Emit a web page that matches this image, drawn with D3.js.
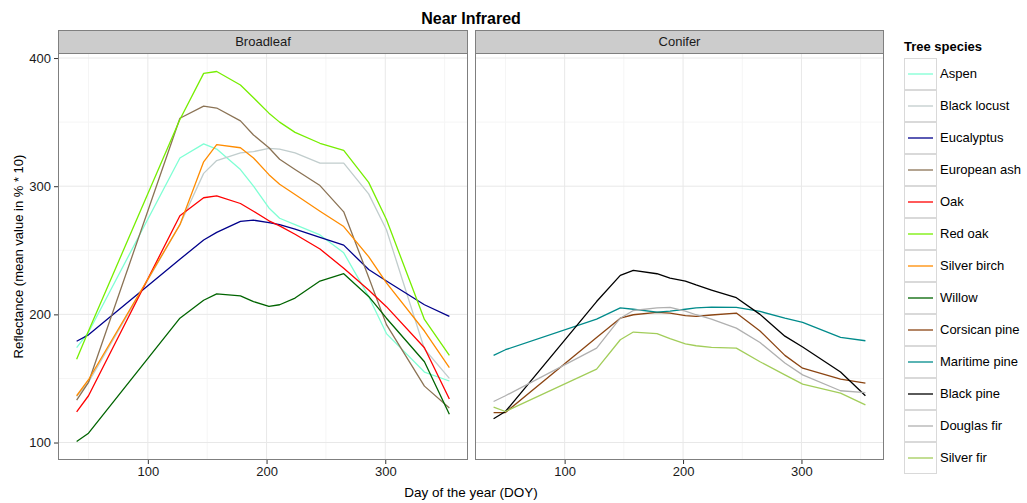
<!DOCTYPE html>
<html>
<head>
<meta charset="utf-8">
<script src="https://cdnjs.cloudflare.com/ajax/libs/d3/7.8.5/d3.min.js"></script>
<style>
  body { margin: 0; background: #fff; font-family: "Liberation Sans", Arial, sans-serif; }
  .tick_label { font-size: 13px; fill: #1a1a1a; }
</style>
</head>
<body>
<div id="chart"></div>
<script>
// ---- data ----
var doy = [40, 50, 127, 147, 158, 178, 189, 202, 211, 224, 245, 265, 286, 301, 333, 354];

var aspen        = [174, 186, 322, 333, 329, 313, 300, 283, 275, 270, 262, 248, 214, 185, 155, 148];
var blackLocust  = [136, 147, 270, 310, 320, 326, 327, 329.5, 329, 326, 318, 318, 294, 266, 173, 150];
var eucalyptus   = [179, 184, 243, 258, 264, 272.5, 273.5, 271.5, 270, 266.5, 260, 254, 235, 226, 207.5, 198.5];
var europeanAsh  = [133, 147, 353, 362.5, 361, 351, 340, 330, 321, 313, 300.5, 280, 229, 192, 144, 127];
var oak          = [124, 136.5, 277, 291, 292.5, 286.5, 280.5, 273, 269, 262.5, 251, 236, 219, 206, 174, 134];
var redOak       = [165, 187, 352, 388, 389.5, 379, 369, 357, 350, 342, 333.5, 328, 303, 274, 196, 168];
var silverBirch  = [136.5, 149, 270, 319, 332.5, 330, 322, 309, 301.5, 293.5, 280.5, 268.5, 245, 224.5, 187, 158.5];
var willow       = [100.8, 107.3, 197, 211, 216, 214.5, 210, 206.2, 207.5, 212.7, 226, 231.7, 214, 197, 163, 122];

var corsicanPine = [123.4, 123.4, 182, 197, 199.7, 201.5, 201, 199, 198.4, 199.5, 201, 187, 168, 158, 149.5, 146.4];
var maritimePine = [168, 172.4, 196.3, 205, 204, 201.8, 202.5, 204, 205, 205.7, 205.4, 202.3, 197, 193.7, 182, 179.4];
var blackPine    = [118.5, 124.2, 210, 230.4, 234.3, 231.7, 228.3, 226, 223, 219, 213, 200, 183, 174.5, 155, 136.5];
var douglasFir   = [132, 136.5, 173.7, 197, 203, 205, 205.4, 202.5, 199.7, 196.3, 189.3, 178, 162, 152.8, 140.4, 139];
var silverFir    = [127.6, 124.2, 157.3, 180.2, 186.2, 185, 181, 177, 175.5, 174.2, 173.7, 163, 152.8, 145.6, 138.6, 129.4];

var panels = ["Broadleaf", "Conifer"];
var speciesNames = ["Aspen", "Black locust", "Eucalyptus", "European ash", "Oak", "Red oak",
                    "Silver birch", "Willow", "Corsican pine", "Maritime pine", "Black pine",
                    "Douglas fir", "Silver fir"];
var speciesGroup = ["Broadleaf", "Broadleaf", "Broadleaf", "Broadleaf", "Broadleaf", "Broadleaf",
                    "Broadleaf", "Broadleaf", "Conifer", "Conifer", "Conifer", "Conifer", "Conifer"];
var speciesValues = [aspen, blackLocust, eucalyptus, europeanAsh, oak, redOak, silverBirch, willow,
                     corsicanPine, maritimePine, blackPine, douglasFir, silverFir];

var yTicks = [100, 200, 300, 400];
var xTicks = [100, 200, 300];

// ---- styling ----
var lineColors = ["#7fffd4", "#c1cdcd", "#00008b", "#8b7355", "#ff0000", "#76ee00",
                  "#ff8c00", "#006400", "#8b4513", "#008b8b", "#000000", "#b0b0b0", "#a2cd5a"];

var width = 1027, height = 503;
var panelTop = 53, panelBottom = 460, stripTop = 30;
var panelX = [[58, 468], [475, 884]];

var svg = d3.select("#chart").append("svg")
    .attr("width", width)
    .attr("height", height);

var series = speciesNames.map(function(name, i) {
  return {
    name: name,
    group: speciesGroup[i],
    color: lineColors[i],
    points: doy.map(function(d, j) { return {x: d, y: speciesValues[i][j]}; })
  };
});

// ggplot-like 5% expansion
var xr = d3.extent(doy);
var allY = d3.merge(speciesValues);
var yr = d3.extent(allY);
var xPad = (xr[1] - xr[0]) * 0.05, yPad = (yr[1] - yr[0]) * 0.05;

var y = d3.scaleLinear()
    .domain([yr[0] - yPad, yr[1] + yPad])
    .range([panelBottom, panelTop]);

var yMinor = [150, 250, 350];
var xMinor = [50, 150, 250, 350];

panels.forEach(function(p, pi) {
  var x = d3.scaleLinear()
      .domain([xr[0] - xPad, xr[1] + xPad])
      .range(panelX[pi]);

  var g = svg.append("g").attr("class", "panel");
  var x0 = panelX[pi][0], x1 = panelX[pi][1];

  g.append("rect")
      .attr("x", x0).attr("y", panelTop)
      .attr("width", x1 - x0).attr("height", panelBottom - panelTop)
      .attr("fill", "#fff");

  // minor grid
  g.selectAll(".ymin").data(yMinor).enter().append("line")
      .attr("x1", x0).attr("x2", x1)
      .attr("y1", function(d) { return y(d); }).attr("y2", function(d) { return y(d); })
      .attr("stroke", "#f5f5f5").attr("stroke-width", 1);
  g.selectAll(".xmin").data(xMinor).enter().append("line")
      .attr("y1", panelTop).attr("y2", panelBottom)
      .attr("x1", function(d) { return x(d); }).attr("x2", function(d) { return x(d); })
      .attr("stroke", "#f5f5f5").attr("stroke-width", 1);

  // major grid
  g.selectAll(".ymaj").data(yTicks).enter().append("line")
      .attr("x1", x0).attr("x2", x1)
      .attr("y1", function(d) { return y(d); }).attr("y2", function(d) { return y(d); })
      .attr("stroke", "#e8e8e8").attr("stroke-width", 1);
  g.selectAll(".xmaj").data(xTicks).enter().append("line")
      .attr("y1", panelTop).attr("y2", panelBottom)
      .attr("x1", function(d) { return x(d); }).attr("x2", function(d) { return x(d); })
      .attr("stroke", "#e8e8e8").attr("stroke-width", 1);

  var line = d3.line()
      .x(function(d) { return x(d.x); })
      .y(function(d) { return y(d.y); });

  g.selectAll(".series")
      .data(series.filter(function(s) { return s.group === p; }))
      .enter().append("path")
      .attr("class", "series")
      .attr("d", function(s) { return line(s.points); })
      .attr("fill", "none")
      .attr("stroke", function(s) { return s.color; })
      .attr("stroke-width", 1.3)
      .attr("stroke-linejoin", "round");

  // border
  g.append("rect")
      .attr("x", x0 + 0.5).attr("y", panelTop + 0.5)
      .attr("width", x1 - x0 - 1).attr("height", panelBottom - panelTop - 1)
      .attr("fill", "none").attr("stroke", "#7f7f7f");

  // strip
  g.append("rect")
      .attr("x", x0 + 0.5).attr("y", stripTop + 0.5)
      .attr("width", x1 - x0 - 1).attr("height", panelTop - stripTop)
      .attr("fill", "#cccccc").attr("stroke", "#7f7f7f");
  g.append("text")
      .attr("x", (x0 + x1) / 2).attr("y", stripTop + 16)
      .attr("text-anchor", "middle")
      .style("font-size", "13px").style("fill", "#1a1a1a")
      .text(p);

  // x axis
  var xa = svg.append("g")
      .attr("transform", "translate(0," + panelBottom + ")")
      .call(d3.axisBottom(x).tickValues(xTicks).tickSize(4).tickPadding(3));
  xa.select(".domain").remove();
  xa.selectAll(".tick line").attr("stroke", "#333");
  xa.selectAll(".tick text").attr("class", "tick_label")
      .style("font-family", "Liberation Sans, Arial, sans-serif");
});

// y axis
var ya = svg.append("g")
    .attr("transform", "translate(" + panelX[0][0] + ",0)")
    .call(d3.axisLeft(y).tickValues(yTicks).tickSize(4).tickPadding(3));
ya.select(".domain").remove();
ya.selectAll(".tick line").attr("stroke", "#333");
ya.selectAll(".tick text").attr("class", "tick_label")
    .style("font-family", "Liberation Sans, Arial, sans-serif");

// titles
svg.append("text")
    .attr("x", (panelX[0][0] + panelX[1][1]) / 2).attr("y", 24)
    .attr("text-anchor", "middle")
    .style("font-size", "16px").style("font-weight", "bold")
    .text("Near Infrared");

svg.append("text")
    .attr("x", (panelX[0][0] + panelX[1][1]) / 2).attr("y", 497)
    .attr("text-anchor", "middle")
    .style("font-size", "13.5px")
    .text("Day of the year (DOY)");

svg.append("text")
    .attr("transform", "translate(23," + ((panelTop + panelBottom) / 2) + ") rotate(-90)")
    .attr("text-anchor", "middle")
    .style("font-size", "13px")
    .text("Reflectance (mean value in % * 10)");

// legend
var lg = svg.append("g").attr("transform", "translate(904,0)");
lg.append("text")
    .attr("x", 0).attr("y", 51)
    .style("font-size", "13px").style("font-weight", "bold")
    .text("Tree species");

var key = lg.selectAll(".key").data(series).enter().append("g")
    .attr("class", "key")
    .attr("transform", function(d, i) { return "translate(0," + (58 + i * 32) + ")"; });
key.append("rect")
    .attr("x", 0.5).attr("y", 0.5).attr("width", 32).attr("height", 31)
    .attr("fill", "#fff").attr("stroke", "#d9d9d9");
key.append("line")
    .attr("x1", 4).attr("x2", 29).attr("y1", 16).attr("y2", 16)
    .attr("stroke", function(d) { return d.color; })
    .attr("stroke-width", 1.3);
key.append("text")
    .attr("x", 36).attr("y", 19.5)
    .style("font-size", "13px")
    .text(function(d) { return d.name; });
</script>
</body>
</html>
